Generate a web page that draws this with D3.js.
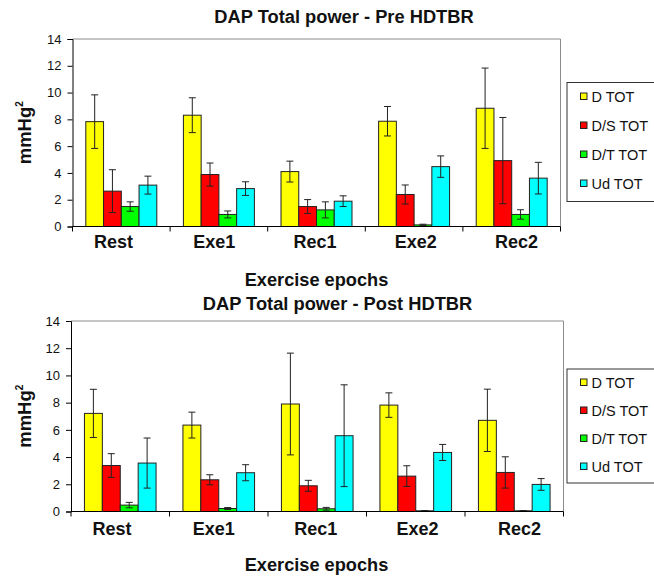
<!DOCTYPE html>
<html>
<head>
<meta charset="utf-8">
<script src="https://cdn.jsdelivr.net/npm/d3@7"></script>
<style>
  body { margin: 0; background: #fff; }
  svg { display: block; font-family: Arial, "Liberation Sans", sans-serif; }
</style>
</head>
<body>
<svg width="654" height="578"></svg>
<script>
const categories = ["Rest", "Exe1", "Rec1", "Exe2", "Rec2"];
const seriesNames = ["D TOT", "D/S TOT", "D/T TOT", "Ud TOT"];
const seriesColors = ["#ffff00", "#ff0000", "#00ff00", "#00ffff"];
const yTicks = [0, 2, 4, 6, 8, 10, 12, 14];

// Pre HDTBR: mean and error per series, one value per epoch
const preD    = [7.83, 8.31, 4.10, 7.86, 8.83];
const preDS   = [2.64, 3.88, 1.49, 2.39, 4.92];
const preDT   = [1.49, 0.90, 1.24, 0.12, 0.90];
const preUd   = [3.09, 2.83, 1.89, 4.47, 3.61];
const preDErr  = [2.00, 1.30, 0.78, 1.10, 3.00];
const preDSErr = [1.60, 0.86, 0.52, 0.71, 3.22];
const preDTErr = [0.35, 0.26, 0.60, 0.05, 0.35];
const preUdErr = [0.67, 0.51, 0.40, 0.80, 1.18];

// Post HDTBR
const postD    = [7.21, 6.35, 7.90, 7.82, 6.70];
const postDS   = [3.38, 2.33, 1.89, 2.60, 2.87];
const postDT   = [0.47, 0.22, 0.20, 0.05, 0.05];
const postUd   = [3.56, 2.85, 5.57, 4.34, 1.99];
const postDErr  = [1.77, 0.95, 3.74, 0.90, 2.29];
const postDSErr = [0.87, 0.37, 0.40, 0.76, 1.15];
const postDTErr = [0.20, 0.07, 0.10, 0.02, 0.02];
const postUdErr = [1.84, 0.59, 3.74, 0.59, 0.43];

const svg = d3.select("svg");

function drawPanel(opts) {
  const means = opts.means, errs = opts.errs;
  const rows = categories.map((c, i) => ({
    cat: c,
    vals: seriesNames.map((s, k) => ({key: s, k: k, v: means[k][i], e: errs[k][i]}))
  }));

  const x = d3.scaleBand().domain(categories).range([opts.left, opts.right]);
  const bw = x.bandwidth() / 5.5;
  const x1 = d3.scaleBand().domain(seriesNames)
    .range([x.bandwidth() / 2 - 2 * bw, x.bandwidth() / 2 + 2 * bw]);
  const y = d3.scaleLinear().domain([0, 14]).range([opts.bottom, opts.top]);
  // category labels sit a little off the band centres, as in the original
  const xl = d3.scalePoint().domain(categories).range([opts.left + 41, opts.right - 44]);

  const g = svg.append("g");

  // plot frame (top and right, grey)
  g.append("path")
    .attr("d", `M${opts.left},${opts.top}H${opts.right}V${opts.bottom}`)
    .attr("fill", "none").attr("stroke", "#8c8c8c").attr("stroke-width", 1);

  // bars
  const grp = g.selectAll(".grp").data(rows).join("g")
    .attr("transform", d => `translate(${x(d.cat)},0)`);

  grp.selectAll("rect").data(d => d.vals).join("rect")
    .attr("x", d => x1(d.key))
    .attr("y", d => y(d.v))
    .attr("width", x1.bandwidth())
    .attr("height", d => y(0) - y(d.v))
    .attr("fill", d => seriesColors[d.k])
    .attr("stroke", "#222").attr("stroke-width", 1);

  // error bars
  const eb = grp.selectAll(".eb").data(d => d.vals).join("g").attr("class", "eb")
    .attr("stroke", "#222").attr("stroke-width", 1);
  eb.append("line")
    .attr("x1", d => x1(d.key) + x1.bandwidth() / 2)
    .attr("x2", d => x1(d.key) + x1.bandwidth() / 2)
    .attr("y1", d => y(d.v + d.e)).attr("y2", d => y(Math.max(0, d.v - d.e)));
  [1, -1].forEach(sg => {
    eb.append("line")
      .attr("x1", d => x1(d.key) + x1.bandwidth() / 2 - 3.5)
      .attr("x2", d => x1(d.key) + x1.bandwidth() / 2 + 3.5)
      .attr("y1", d => y(Math.max(0, d.v + sg * d.e)))
      .attr("y2", d => y(Math.max(0, d.v + sg * d.e)));
  });

  // y axis
  const yAxis = g.append("g")
    .attr("transform", `translate(${opts.left},0)`)
    .call(d3.axisLeft(y).tickValues(yTicks).tickSize(5).tickPadding(6));
  yAxis.select(".domain").attr("stroke", "#000");
  yAxis.selectAll("text").attr("font-size", 13).attr("fill", "#111")
    .attr("font-family", "Arial, 'Liberation Sans', sans-serif");

  // x axis: ticks at band boundaries
  const xg = g.append("g");
  xg.append("line").attr("x1", opts.left).attr("x2", opts.right)
    .attr("y1", opts.bottom).attr("y2", opts.bottom).attr("stroke", "#000");
  const bounds = categories.map(c => x(c)).concat([opts.right]);
  xg.selectAll(".xt").data(bounds).join("line")
    .attr("x1", d => d).attr("x2", d => d)
    .attr("y1", opts.bottom).attr("y2", opts.bottom + 5).attr("stroke", "#000");
  xg.selectAll(".xl").data(categories).join("text")
    .attr("x", d => xl(d))
    .attr("y", opts.bottom + opts.labelDy)
    .attr("text-anchor", "middle")
    .attr("font-size", 18).attr("font-weight", "bold").attr("fill", "#111")
    .text(d => d);

  // titles
  g.append("text").attr("x", opts.titleX).attr("y", opts.titleY)
    .attr("text-anchor", "middle").attr("font-size", 18.3).attr("font-weight", "bold")
    .attr("fill", "#111").text(opts.title);
  g.append("text").attr("x", 316.5).attr("y", opts.bottom + opts.xTitleDy)
    .attr("text-anchor", "middle").attr("font-size", 18.2).attr("font-weight", "bold")
    .attr("fill", "#111").text("Exercise epochs");
  const yl = g.append("text")
    .attr("transform", `translate(31,${(opts.top + opts.bottom) / 2}) rotate(-90)`)
    .attr("text-anchor", "middle").attr("font-size", 18.5).attr("font-weight", "bold")
    .attr("fill", "#111");
  yl.append("tspan").text("mmHg");
  yl.append("tspan").attr("font-size", 10).attr("dy", -8).text("2");

  // legend
  const lg = g.append("g").attr("transform", `translate(${opts.legX},${opts.legY})`);
  lg.append("rect").attr("x", 0.5).attr("y", 0.5).attr("width", 100).attr("height", opts.legH)
    .attr("fill", "#fff").attr("stroke", "#333").attr("stroke-width", 1);
  const items = lg.selectAll(".li").data(seriesNames).join("g")
    .attr("transform", (d, i) => `translate(14,${opts.legFirst + i * opts.legStep})`);
  items.append("rect").attr("x", 0).attr("y", -3.5).attr("width", 6.5).attr("height", 6.5)
    .attr("fill", (d, i) => seriesColors[i]).attr("stroke", "#222");
  items.append("text").attr("x", 11).attr("y", 5.2)
    .attr("font-size", 14.5).attr("fill", "#111").text(d => d);
}

drawPanel({
  title: "DAP Total power - Pre HDTBR", titleX: 344, titleY: 22.5,
  means: [preD, preDS, preDT, preUd], errs: [preDErr, preDSErr, preDTErr, preUdErr],
  left: 72.5, right: 560.5, top: 39, bottom: 226.5, labelDy: 21.5, xTitleDy: 59.5,
  legX: 566.5, legY: 82, legH: 119, legFirst: 14.5, legStep: 29
});

drawPanel({
  title: "DAP Total power - Post HDTBR", titleX: 337.5, titleY: 310,
  means: [postD, postDS, postDT, postUd], errs: [postDErr, postDSErr, postDTErr, postUdErr],
  left: 71, right: 563.5, top: 321, bottom: 511.5, labelDy: 23.5, xTitleDy: 59.5,
  legX: 566.5, legY: 368.5, legH: 114, legFirst: 14, legStep: 28
});
</script>
</body>
</html>
